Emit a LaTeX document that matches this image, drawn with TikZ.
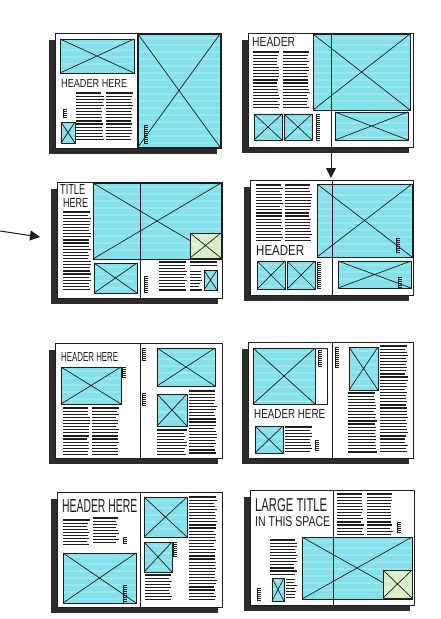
\documentclass[tikz,border=0pt]{standalone}
\usepackage{fontspec}
\usepackage{graphicx}
\setmainfont{Liberation Sans}
\usetikzlibrary{arrows.meta}
\definecolor{cyanfill}{HTML}{84E1EB}
\definecolor{greenfill}{HTML}{D6EFC6}
\definecolor{ink}{HTML}{1E1E1E}
\definecolor{shadowgray}{HTML}{2C2C2C}
\tikzset{
  pageline/.style={draw=ink, line width=0.9pt},
  imgline/.style={draw=ink, line width=0.7pt},
  tline/.style={draw=ink, line width=1.2pt},
  capline/.style={draw=ink, line width=0.5pt},
  streak/.style={draw=white, line width=1.4pt, opacity=0.18},
  hand/.style={anchor=south west, inner sep=0pt, text=ink},
  arr/.style={draw=ink, line width=1pt, -{Triangle[length=10pt,width=10pt]}}
}
\newcommand{\spreadbg}[4]{%
  \fill[shadowgray] (#1-6,#2+7) rectangle (#3-4,#4+5.5);
  \filldraw[pageline, fill=white] (#1,#2) rectangle (#3,#4);}
\newcommand{\spine}[3]{\draw[pageline] (#1,#2) -- (#1,#3);}
\newcommand{\img}[5][cyanfill]{%
  \fill[#1] (#2,#3) rectangle (#4,#5);
  \begin{scope}
    \clip (#2,#3) rectangle (#4,#5);
    \pgfmathtruncatemacro\ns{(#5-#3)/7}%
    \foreach \i in {1,...,\ns}{%
      \pgfmathsetmacro\ys{#3+\i*7-3}%
      \draw[streak] (#2,\ys) -- (#4,\ys);}
  \end{scope}
  \draw[imgline] (#2,#3) rectangle (#4,#5);
  \draw[imgline] (#2,#3) -- (#4,#5) (#2,#5) -- (#4,#3);}
\newcommand{\tcol}[4]{%
  \pgfmathtruncatemacro\nlines{(#4-#2)/3.1}%
  \foreach \i in {0,...,\nlines}{%
    \pgfmathsetmacro\yy{#2+\i*3.1}%
    \pgfmathsetmacro\xe{#3-rnd*3}%
    \draw[tline] (#1,\yy) -- (\xe,\yy);}}
\newcommand{\capmk}[3]{%
  \draw[capline] (#1,#2) -- (#1,#3);
  \pgfmathtruncatemacro\nt{(#3-#2)/2}%
  \foreach \i in {0,...,\nt}{%
    \pgfmathsetmacro\yy{#2+\i*2}%
    \draw[capline] (#1,\yy) -- (#1+4,\yy);}}
\begin{document}
\begin{tikzpicture}[x=1pt,y=-1pt]
\pgfmathsetseed{7}
\useasboundingbox[fill=white] (0,0) rectangle (440,619);

% ---------- spread 1 (top left)
\spreadbg{55}{33}{221}{148}
\img{60}{39}{134}{73}
\node[hand] (h1) at (61,88) {\resizebox{66pt}{8pt}{HEADER HERE}};
\tcol{76}{93}{104}{142}
\tcol{106}{93}{133}{142}
\img{61}{122}{75}{143}
\capmk{63}{109}{117}
\img{138}{34}{220}{147}
\capmk{144}{125}{143}
\spine{137}{33}{148}

% ---------- spread 2 (top right)
\spreadbg{248}{33}{413}{147}
\node[hand] (h2) at (252,47) {\resizebox{43pt}{9pt}{HEADER}};
\tcol{253}{52}{280}{110}
\tcol{283}{52}{310}{110}
\img{313}{34}{410}{110}
\img{254}{114}{282}{140}
\img{284}{114}{312}{140}
\capmk{316}{114}{140}
\img{335}{112}{408}{140}
\spine{331}{33}{147}

% arrows
\coordinate (a1s) at (331,153);
\coordinate (a1e) at (331,178);
\draw[arr] (a1s) -- (a1e);
\coordinate (a2s) at (0,231);
\coordinate (a2e) at (40,237);
\draw[arr] (a2s) -- (a2e);

% ---------- spread 3 (middle left)
\spreadbg{57}{182}{222}{298}
\node[hand] (t3a) at (60,195) {\resizebox{25pt}{10pt}{TITLE}};
\node[hand] (t3b) at (63,208) {\resizebox{25pt}{9pt}{HERE}};
\tcol{63}{212}{91}{292}
\img{93}{183}{221}{259}
\img[greenfill]{190}{233}{221}{258}
\img{94}{263}{137}{293}
\capmk{144}{276}{292}
\tcol{159}{262}{187}{292}
\tcol{190}{262}{217}{268}
\tcol{190}{271.3}{202}{292}
\img{204}{270}{217}{290}
\spine{140}{182}{298}

% ---------- spread 4 (middle right)
\spreadbg{250}{180}{413}{295}
\tcol{256}{185}{283}{242}
\tcol{285}{185}{312}{242}
\node[hand] (h4) at (256,256) {\resizebox{48pt}{10pt}{HEADER}};
\img{317}{184}{412}{257}
\capmk{396}{238}{253}
\img{257}{261}{285}{289}
\img{287}{261}{315}{289}
\capmk{317}{262}{288}
\img{338}{261}{411}{288}
\capmk{398}{277}{287}
\spine{332}{180}{295}

% ---------- spread 5 (row 3 left)
\spreadbg{55}{343}{222}{458}
\node[hand] (h5) at (61,362) {\resizebox{57pt}{9pt}{HEADER HERE}};
\img{61}{367}{121}{404}
\capmk{122}{367}{378}
\tcol{63}{408}{90}{455}
\tcol{92}{408}{119}{455}
\capmk{142}{348}{360}
\img{157}{348}{215}{386}
\capmk{142}{393}{405}
\img{157}{394}{187}{426}
\tcol{189}{391}{217}{455}
\tcol{157}{430}{187}{455}
\spine{140}{343}{458}

% ---------- spread 6 (row 3 right)
\spreadbg{248}{342}{413}{458}
\draw[imgline] (253,348) rectangle (327,404);
\img{253}{348}{315}{404}
\capmk{318}{350}{367}
\capmk{335}{347}{367}
\node[hand] (h6) at (254,419) {\resizebox{71pt}{9pt}{HEADER HERE}};
\img{255}{426}{283}{453}
\tcol{285}{427}{313}{453}
\capmk{315}{440}{450}
\img{349}{347}{378}{390}
\tcol{380}{346}{408}{453}
\tcol{348}{393}{377}{453}
\spine{332}{342}{458}

% ---------- spread 7 (bottom left)
\spreadbg{57}{492}{222}{607}
\node[hand] (h7) at (62,513) {\resizebox{75pt}{13pt}{HEADER HERE}};
\tcol{63}{520}{90}{547}
\tcol{93}{518}{119}{545}
\capmk{123}{537}{544}
\img{63}{553}{136}{603}
\capmk{123}{585}{603}
\img{144}{497}{187}{537}
\img{144}{542}{172}{572}
\capmk{173}{542}{557}
\tcol{145}{575}{172}{600}
\tcol{189}{497}{217}{600}
\spine{140}{492}{607}

% ---------- spread 8 (bottom right)
\spreadbg{250}{490}{414}{605}
\node[hand] (t8a) at (255,512) {\resizebox{72pt}{13pt}{LARGE TITLE}};
\node[hand] (t8b) at (255,527) {\resizebox{75pt}{10pt}{IN THIS SPACE}};
\tcol{337}{494}{364}{535}
\tcol{367}{494}{393}{535}
\capmk{397}{522}{532}
\tcol{270}{540}{297}{576}
\tcol{286}{579.1}{297}{600}
\img{272}{578}{284}{601}
\capmk{257}{588}{600}
\img{302}{537}{412}{599}
\img[greenfill]{383}{570}{412}{598}
\spine{333}{490}{605}
\end{tikzpicture}
\end{document}
